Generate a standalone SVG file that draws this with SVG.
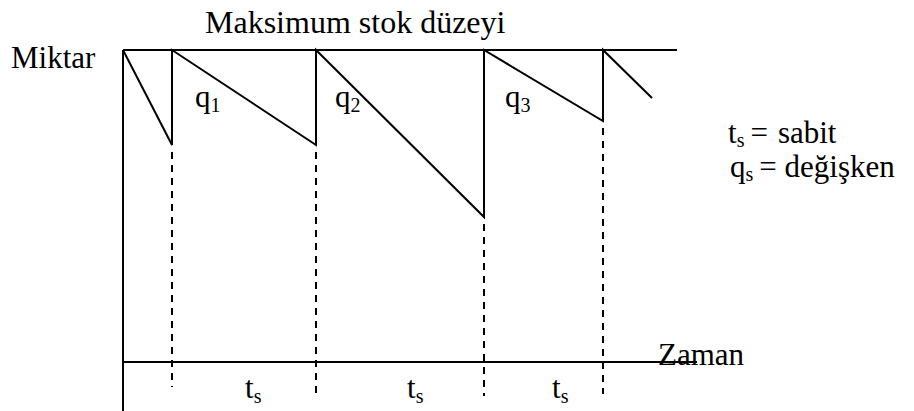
<svg xmlns="http://www.w3.org/2000/svg" width="914" height="411" viewBox="0 0 914 411">
<style>
.ln{stroke:#000;stroke-width:2;fill:none}
.dash{stroke:#000;stroke-width:2;fill:none;stroke-dasharray:7,6}
</style>
<rect width="914" height="411" fill="#fff"/>
<g id="labels" fill="#000">
<text x="205" y="33" font-size="32" font-family="Liberation Serif">Maksimum stok düzeyi</text>
<text x="11" y="68" font-size="31" font-family="Liberation Serif">Miktar</text>
<text x="658" y="365" font-size="31" font-family="Liberation Serif">Zaman</text>
<text x="728" y="143" font-size="31" font-family="Liberation Serif">t<tspan font-size="20" dy="4">s</tspan><tspan dy="-4" dx="6">=</tspan><tspan dx="10">sabit</tspan></text>
<text x="730" y="177" font-size="31" font-family="Liberation Serif">q<tspan font-size="20" dy="4">s</tspan><tspan dy="-4" dx="6">=</tspan><tspan> değişken</tspan></text>
<text x="195" y="107" font-size="31" font-family="Liberation Serif">q<tspan font-size="20" dy="5">1</tspan></text>
<text x="335" y="107" font-size="31" font-family="Liberation Serif">q<tspan font-size="20" dy="5">2</tspan></text>
<text x="505" y="107" font-size="31" font-family="Liberation Serif">q<tspan font-size="20" dy="5">3</tspan></text>
<text x="245" y="398" font-size="31" font-family="Liberation Serif">t<tspan font-size="20" dy="5">s</tspan></text>
<text x="407" y="398" font-size="31" font-family="Liberation Serif">t<tspan font-size="20" dy="5">s</tspan></text>
<text x="552" y="398" font-size="31" font-family="Liberation Serif">t<tspan font-size="20" dy="5">s</tspan></text>
</g>
<g id="axes">
<line class="ln" x1="123" y1="50" x2="123" y2="411"/>
<line class="ln" x1="123" y1="50" x2="677" y2="50"/>
<line class="ln" x1="123" y1="362" x2="697" y2="362"/>
</g>
<g id="sawtooth">
<polyline class="ln" points="123,50 172,145 172,50 316,145 316,50 484,217 484,50 603,121 603,50 652,98"/>
</g>
<g id="connectors">
<line class="dash" x1="172" y1="152" x2="172" y2="387"/>
<line class="dash" x1="316" y1="152" x2="316" y2="399"/>
<line class="dash" x1="484" y1="224" x2="484" y2="396"/>
<line class="dash" x1="603" y1="128" x2="603" y2="394"/>
</g>
</svg>
